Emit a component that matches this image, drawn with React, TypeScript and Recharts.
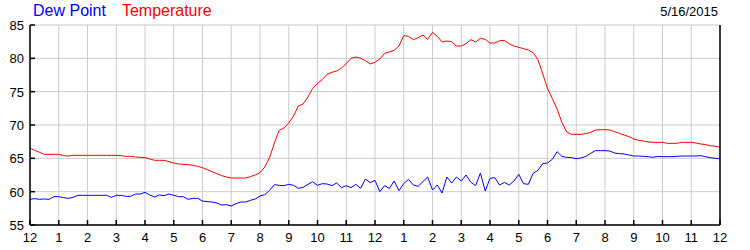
import { LineChart, Line, XAxis, YAxis, CartesianGrid } from "recharts";

// readings every 10 minutes, midnight to midnight (one row per hour)
const TEMPERATURE = [
  66.5, 66.2, 65.9, 65.6, 65.6, 65.6,
  65.6, 65.4, 65.35, 65.45, 65.45, 65.45,
  65.45, 65.45, 65.45, 65.45, 65.45, 65.45,
  65.45, 65.4, 65.3, 65.3, 65.2, 65.15,
  65.1, 64.9, 64.7, 64.7, 64.7, 64.5,
  64.3, 64.15, 64.1, 64.05, 63.95, 63.8,
  63.6, 63.3, 63.0, 62.7, 62.4, 62.2,
  62.05, 62.05, 62.05, 62.05, 62.25, 62.5,
  62.85, 63.7, 65.1, 67.3, 69.2, 69.55,
  70.3, 71.35, 72.85, 73.15, 74.2, 75.5,
  76.25, 76.8, 77.6, 77.9, 78.1, 78.55,
  79.2, 80.0, 80.2, 80.0, 79.65, 79.15,
  79.4, 79.9, 80.75, 80.95, 81.2, 81.85,
  83.4, 83.3, 82.8, 83.1, 83.5, 82.85,
  83.9, 83.3, 82.45, 82.6, 82.5, 81.85,
  81.85, 82.2, 82.8, 82.45, 83.0, 82.85,
  82.3, 82.3, 82.65, 82.7, 82.2, 81.85,
  81.65, 81.45, 81.25, 80.85, 79.8, 77.7,
  75.5, 74.0, 72.4, 70.4, 68.95, 68.6,
  68.6, 68.6, 68.7, 68.9, 69.25, 69.3,
  69.3, 69.25, 69.0, 68.75, 68.5, 68.25,
  67.9, 67.7, 67.6, 67.45, 67.4, 67.4,
  67.4, 67.25, 67.25, 67.25, 67.4, 67.4,
  67.4, 67.3, 67.15, 67.05, 66.9, 66.8,
  66.7,
];

const DEW_POINT = [
  58.85, 58.95, 58.85, 58.9, 58.85, 59.25,
  59.25, 59.1, 59.0, 59.15, 59.45, 59.45,
  59.45, 59.45, 59.45, 59.45, 59.45, 59.15,
  59.45, 59.45, 59.3, 59.3, 59.65, 59.65,
  59.9, 59.5, 59.2, 59.5, 59.4, 59.65,
  59.45, 59.25, 59.25, 58.85, 59.0, 59.0,
  58.6, 58.5, 58.45, 58.3, 58.0, 58.05,
  57.85, 58.2, 58.45, 58.45, 58.7, 58.9,
  59.35, 59.55, 60.2, 61.05, 60.95, 60.9,
  61.1, 60.95, 60.5, 60.65, 61.1, 61.5,
  60.95, 61.2, 61.15, 60.9, 61.3, 60.6,
  60.9, 60.6, 61.1, 60.5, 61.9, 61.35,
  61.7, 60.0, 60.9, 60.5, 61.6, 60.15,
  61.2, 61.85, 61.0, 60.8, 61.5, 62.2,
  60.25, 61.0, 59.8, 62.2, 61.3, 62.2,
  61.6, 62.5, 61.4, 60.9, 62.8, 60.1,
  62.0, 62.1, 61.0, 61.4, 61.0, 61.6,
  62.6, 61.2, 61.1, 62.75, 63.2, 64.2,
  64.3, 64.85, 66.0, 65.3, 65.15, 65.1,
  64.95, 65.05, 65.3, 65.75, 66.15, 66.15,
  66.15, 66.1, 65.8, 65.7, 65.65, 65.5,
  65.35, 65.35, 65.3, 65.25, 65.15, 65.3,
  65.25, 65.25, 65.25, 65.3, 65.35, 65.35,
  65.35, 65.35, 65.4, 65.25, 65.1, 65.0,
  64.95,
];

const HOUR_LABELS = ["12", "1", "2", "3", "4", "5", "6", "7", "8", "9", "10", "11",
  "12", "1", "2", "3", "4", "5", "6", "7", "8", "9", "10", "11", "12"];
const HOUR_TICKS = HOUR_LABELS.map((_, i) => i * 60);
const TEMP_TICKS = [55, 60, 65, 70, 75, 80, 85];
const DATE_LABEL = "5/16/2015";

const data = TEMPERATURE.map((temp, i) => ({ min: i * 10, temp, dew: DEW_POINT[i] }));

const FONT = "'Liberation Sans', Arial, sans-serif";
const AXIS = { stroke: "#000", strokeWidth: 1.5 };

const BottomTick = ({ x, y, payload }: any) => (
  <g>
    <line x1={x} x2={x} y1={y} y2={y - 5} stroke="#000" strokeWidth={1.5} />
    <text x={x} y={y + 17} textAnchor="middle" fontSize={13} fontFamily={FONT} fill="#000">
      {HOUR_LABELS[Math.round(payload.value / 60)]}
    </text>
  </g>
);

const TopTick = ({ x, y }: any) => (
  <line x1={x} x2={x} y1={y} y2={y + 5} stroke="#000" strokeWidth={1.5} />
);

const LeftTick = ({ x, y, payload }: any) => (
  <g>
    <line x1={x} x2={x + 5} y1={y} y2={y} stroke="#000" strokeWidth={1.5} />
    <text x={x - 6} y={y + 5} textAnchor="end" fontSize={13} fontFamily={FONT} fill="#000">
      {payload.value}
    </text>
  </g>
);

const RightTick = ({ x, y, payload }: any) => (
  <g>
    <line x1={x} x2={x - 5} y1={y} y2={y} stroke="#000" strokeWidth={1.5} />
    <text x={x + 7} y={y + 5} textAnchor="start" fontSize={13} fontFamily={FONT} fill="#000">
      {payload.value}
    </text>
  </g>
);

export default function App() {
  return (
    <div style={{ position: "absolute", left: 0, top: 0, width: 750, height: 250, background: "#fff", fontFamily: FONT }}>
      <div style={{ position: "absolute", left: 33, top: 2, fontSize: 16, whiteSpace: "nowrap" }}>
        <span style={{ color: "#0000ff" }}>Dew Point</span>
        <span style={{ color: "#ff0000", marginLeft: 16 }}>Temperature</span>
      </div>
      <div style={{ position: "absolute", right: 32, top: 4, fontSize: 13, color: "#000" }}>{DATE_LABEL}</div>
      <LineChart width={750} height={250} data={data} margin={{ top: 25, right: 0, bottom: 0, left: 0 }}>
        <CartesianGrid stroke="#cccccc" strokeWidth={1} />
        <XAxis
          dataKey="min"
          type="number"
          domain={[0, 1440]}
          ticks={HOUR_TICKS}
          interval={0}
          height={25}
          tickSize={0}
          tickMargin={0}
          axisLine={AXIS}
          tick={<BottomTick />}
        />
        <XAxis
          xAxisId="top"
          orientation="top"
          dataKey="min"
          type="number"
          domain={[0, 1440]}
          ticks={HOUR_TICKS}
          interval={0}
          height={0}
          tickSize={0}
          tickMargin={0}
          axisLine={AXIS}
          tick={<TopTick />}
        />
        <YAxis
          type="number"
          domain={[55, 85]}
          ticks={TEMP_TICKS}
          interval={0}
          width={30}
          tickSize={0}
          tickMargin={0}
          axisLine={AXIS}
          tick={<LeftTick />}
        />
        <YAxis
          yAxisId="right"
          orientation="right"
          type="number"
          domain={[55, 85]}
          ticks={TEMP_TICKS}
          interval={0}
          width={30}
          tickSize={0}
          tickMargin={0}
          axisLine={AXIS}
          tick={<RightTick />}
        />
        <Line dataKey="temp" stroke="#ff0000" strokeWidth={1} dot={false} isAnimationActive={false} />
        <Line dataKey="dew" stroke="#0000ff" strokeWidth={1} dot={false} isAnimationActive={false} />
      </LineChart>
    </div>
  );
}
